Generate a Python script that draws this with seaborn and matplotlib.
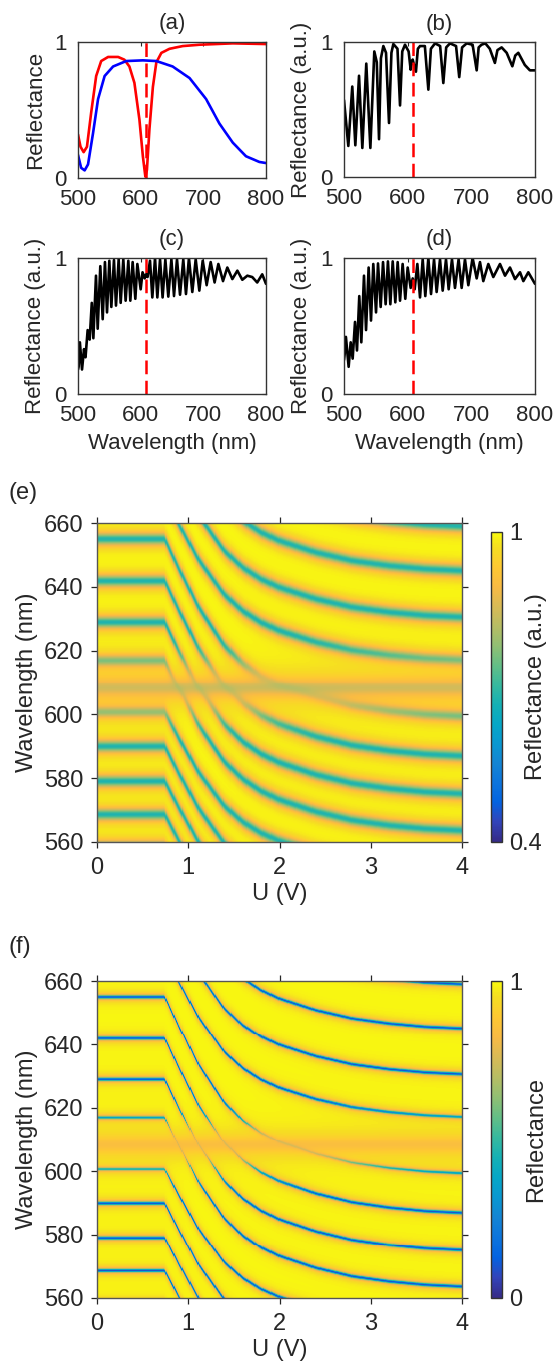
import numpy as np
import pandas as pd
import matplotlib
matplotlib.use("Agg")
import matplotlib.pyplot as plt
import seaborn as sns
from matplotlib.colors import LinearSegmentedColormap

# ---------------- data ----------------
# (a) simulated spectra
a_red_wl = [500, 504, 509, 514.3, 521, 529, 537, 548, 564, 574, 582, 590, 598, 603.5, 607.5,
            610, 614, 619.5, 625, 633, 646, 667, 694, 747, 800]
a_red_R = [0.32, 0.23, 0.19, 0.23, 0.48, 0.75, 0.86, 0.89, 0.89, 0.87, 0.82, 0.70, 0.43, 0.16, 0.01,
           0.06, 0.36, 0.67, 0.85, 0.92, 0.95, 0.97, 0.98, 0.99, 0.985]
a_blue_wl = [500, 505, 510.6, 516, 524, 532, 542.5, 556, 577, 603.5, 625, 651, 678, 704.5, 725.7,
             747, 768, 789.4, 800]
a_blue_R = [0.17, 0.075, 0.056, 0.10, 0.33, 0.58, 0.75, 0.82, 0.86, 0.865, 0.86, 0.82, 0.735, 0.58,
            0.40, 0.26, 0.16, 0.118, 0.11]

# (b) measured spectrum
b_wl = [500, 506.8, 513, 517.8, 523.6, 528.8, 535, 541.4, 547.6, 551.5, 555, 558, 561.8, 566, 570.7,
        574.5, 577.5, 584, 588, 591.5, 595.8, 601.5, 604.7, 606.5, 607.9, 609.5, 613, 616, 619.4, 627,
        632.5, 636.5, 643, 651, 656, 660.5, 666.5, 676, 681, 685.5, 692.7, 702, 708.4, 711.5, 716, 722,
        729, 737, 741, 747.6, 755.5, 764.4, 769, 773.8, 784, 792, 800]
b_R = [0.57, 0.23, 0.67, 0.235, 0.75, 0.215, 0.84, 0.215, 0.93, 0.85, 0.28, 0.88, 0.97, 0.92, 0.40,
       0.92, 0.985, 0.95, 0.53, 0.93, 0.98, 0.93, 0.795, 0.86, 0.87, 0.84, 0.78, 0.95, 0.97, 0.97,
       0.647, 0.95, 0.99, 0.97, 0.696, 0.96, 0.99, 0.97, 0.74, 0.96, 0.99, 0.98, 0.79, 0.96, 0.98, 0.99,
       0.95, 0.845, 0.94, 0.96, 0.92, 0.82, 0.90, 0.92, 0.83, 0.79, 0.79]

# (c) measured spectrum
c_wl = [500, 501, 503, 506.4, 509.6, 512, 515.4, 518.6, 522, 524.5, 528.7, 531.4, 535.6, 539.4, 543,
        546.3, 550, 553.2, 557.4, 560.6, 564.9, 568.1, 572.3, 576, 580.3, 583.5, 587.2, 591.5, 594.7,
        600, 603, 606.4, 608.5, 611, 614.9, 618.6, 622.9, 626.6, 630.9, 635, 639.4, 644.1, 649, 653.2,
        658, 662.8, 668, 672.3, 677, 682.4, 687.8, 693.6, 699, 705.3, 711.7, 718, 724, 731.4, 738.3,
        746.3, 754.3, 762.2, 770.2, 778, 786, 794, 800]
c_R = [0.18, 0.20, 0.38, 0.18, 0.33, 0.27, 0.47, 0.40, 0.67, 0.41, 0.87, 0.48, 0.94, 0.55, 0.97,
       0.60, 0.98, 0.64, 0.985, 0.65, 0.99, 0.67, 0.99, 0.686, 0.98, 0.686, 0.97, 0.70, 0.956,
       0.77, 0.895, 0.85, 0.88, 0.86, 0.98, 0.71, 1.0, 0.71, 0.99, 0.71, 0.99, 0.716, 0.99, 0.72,
       0.99, 0.73, 0.99, 0.735, 1.0, 0.75, 0.99, 0.76, 0.98, 0.80, 0.97, 0.82, 0.956, 0.83, 0.93,
       0.845, 0.907, 0.84, 0.87, 0.86, 0.82, 0.88, 0.81]

# (d) measured spectrum
d_wl = [500, 501, 503, 507.3, 510.5, 513.6, 517.3, 520.4, 524, 527.2, 531.4, 534.6, 538.7, 542.4, 546,
        550.3, 553.4, 557.6, 561.3, 565.4, 569, 572.8, 576.5, 580.6, 584.3, 588, 592.1, 596.3, 600,
        604.7, 607.9, 611, 615.2, 619.4, 623.6, 627.7, 632.5, 636.7, 641.4, 645.5, 650.8, 655, 660.2,
        664.4, 669.6, 674.3, 680, 684.8, 690, 695.3, 702, 708.4, 713.6, 718.8, 726.7, 734.5, 745,
        752.9, 760.7, 768.6, 776.5, 781.7, 789.5, 800]
d_R = [0.25, 0.29, 0.42, 0.20, 0.38, 0.26, 0.53, 0.32, 0.72, 0.38, 0.87, 0.47, 0.93, 0.54, 0.956,
       0.60, 0.96, 0.64, 0.97, 0.66, 0.975, 0.66, 0.975, 0.674, 0.97, 0.686, 0.956, 0.70, 0.93,
       0.78, 0.85, 0.77, 0.956, 0.71, 0.99, 0.72, 1.0, 0.735, 0.99, 0.75, 0.99, 0.76, 0.99,
       0.77, 0.99, 0.78, 0.99, 0.78, 0.99, 0.80, 1.0, 0.85, 0.97, 0.83, 0.956, 0.86, 0.956,
       0.87, 0.93, 0.845, 0.895, 0.83, 0.895, 0.81]

marker_wl = 608.5

# (e)/(f) maps: reflection dips (nm) at U = 0 V and at U = 4 V, tuning profile
mode_wl_U0 = [558.5, 568.6, 579.0, 589.9, 600.6, 617.0, 629.0, 641.9, 655.0, 668.0, 682.0, 697.0, 711.0, 726.0]
mode_wl_U4 = [510.5, 519.8, 529.4, 539.3, 551.5, 563.6, 575.1, 586.9, 599.3, 617.2, 630.6, 645.1, 659.0, 673.0]
tune_U = [0, 0.74, 0.9, 1.12, 1.4, 1.6, 1.8, 2.0, 2.4, 2.8, 3.2, 3.6, 4.0]
tune_frac = [0, 0, 0.17, 0.39, 0.60, 0.70, 0.77, 0.82, 0.89, 0.94, 0.97, 0.99, 1.0]
defect_wl = 608.3
e_dip_depth, e_dip_width, e_defect_depth = 0.32, 2.4, 0.15
f_dip_depth, f_dip_width, f_defect_depth = 0.90, 0.45, 0.15
e_range = (0.4, 1.0)
f_range = (0.0, 1.0)

# ---------------- style ----------------
sns.set_style("white")
plt.rcParams["font.family"] = ["Liberation Sans", "DejaVu Sans"]
dark = "#262626"
plt.rcParams.update({"text.color": dark, "axes.labelcolor": dark, "xtick.color": dark,
                     "ytick.color": dark, "axes.edgecolor": dark})

parula_pts = [(0.2081, 0.1663, 0.5292), (0.1959, 0.2645, 0.7279), (0.0117, 0.3875, 0.8820),
              (0.0498, 0.4586, 0.8641), (0.0793, 0.5200, 0.8312), (0.0343, 0.5966, 0.8199),
              (0.0228, 0.6535, 0.7768), (0.0843, 0.6928, 0.7062), (0.2178, 0.7250, 0.6193),
              (0.3953, 0.7459, 0.5244), (0.5709, 0.7485, 0.4494), (0.7184, 0.7411, 0.3905),
              (0.8507, 0.7299, 0.3360), (0.9739, 0.7314, 0.2666), (0.9955, 0.7861, 0.1967),
              (0.9626, 0.8705, 0.1309), (0.9763, 0.9831, 0.0538)]
pos = [0, 4, 8, 12, 16, 20, 24, 28, 32, 36, 40, 44, 48, 52, 56, 60, 63]
parula = LinearSegmentedColormap.from_list("parula", [(p / 63, c) for p, c in zip(pos, parula_pts)])

W, H = 555, 1371
fig = plt.figure(figsize=(W / 100, H / 100), dpi=100)


def rect(l, r, t, b):
    return [l / W, 1 - b / H, (r - l) / W, (b - t) / H]


FS = 16


def spectrum_axes(r, title, ylabel, xlabel, series):
    ax = fig.add_axes(r)
    for wl, R, col in series:
        df = pd.DataFrame({"wl": wl, "R": R})
        sns.lineplot(data=df, x="wl", y="R", ax=ax, color=col, lw=1.9, sort=False, estimator=None)
    ax.axvline(marker_wl, color="red", lw=1.8, ls=(0, (5.5, 2.6)))
    ax.set_xlim(500, 800)
    ax.set_ylim(0, 1)
    ax.set_xticks([500, 600, 700, 800])
    ax.set_yticks([0, 1])
    ax.set_yticklabels(["0", "1"])
    ax.tick_params(direction="in", length=3, width=0.8, top=True, right=True, labelsize=FS, pad=8)
    ax.set_title(title, fontsize=FS, pad=9)
    ax.set_ylabel(ylabel, fontsize=FS, labelpad=6)
    ax.set_xlabel(xlabel if xlabel else "", fontsize=FS, labelpad=5)
    for s in ax.spines.values():
        s.set_linewidth(1.0)
        s.set_color("#333333")
    return ax


spectrum_axes(rect(78, 266, 42, 178), "(a)", "Reflectance", None,
              [(a_red_wl, a_red_R, "#ff0000"), (a_blue_wl, a_blue_R, "#0000ff")])
spectrum_axes(rect(344, 535, 42, 177), "(b)", "Reflectance (a.u.)", None, [(b_wl, b_R, "black")])
spectrum_axes(rect(78, 266, 258, 394), "(c)", "Reflectance (a.u.)", "Wavelength (nm)", [(c_wl, c_R, "black")])
spectrum_axes(rect(344, 535, 258, 394), "(d)", "Reflectance (a.u.)", "Wavelength (nm)", [(d_wl, d_R, "black")])

# ---------------- maps ----------------
NU, NL = 320, 320
U = (np.arange(NU) + 0.5) * 4.0 / NU
LAM = 660 - (np.arange(NL) + 0.5) * 100.0 / NL
g = np.interp(U, tune_U, tune_frac)


def build_map(depth, width, ddepth, vmin, squared):
    R = np.ones((NL, NU))
    L = LAM[:, None]
    for l0, l4 in zip(mode_wl_U0, mode_wl_U4):
        pos_k = l0 + (l4 - l0) * g[None, :]
        fade = 1 - 0.9 * np.exp(-((pos_k - defect_wl) / 8.5) ** 2)
        prof = width ** 2 / ((L - pos_k) ** 2 + width ** 2)
        if squared:
            prof = prof ** 2
        R -= depth * fade * prof
    R -= ddepth * 9.0 / ((L - defect_wl) ** 2 + 9.0) * np.ones((1, NU))
    return np.clip(R, vmin, 1.0)


def map_axes(r, cr, data, vr, cblabel, cbticks, tag, tag_y):
    ax = fig.add_axes(r)
    cax = fig.add_axes(cr)
    df = pd.DataFrame(data, index=np.round(LAM, 2), columns=np.round(U, 3))
    sns.heatmap(df, ax=ax, cmap=parula, vmin=vr[0], vmax=vr[1], cbar_ax=cax,
                xticklabels=False, yticklabels=False, rasterized=True,
                cbar_kws={"ticks": [vr[0], vr[1]]})
    ax.set_xticks([u / 4.0 * NU for u in [0, 1, 2, 3, 4]])
    ax.set_xticklabels(["0", "1", "2", "3", "4"])
    yt = [660, 640, 620, 600, 580, 560]
    ax.set_yticks([(660 - v) / 100.0 * NL for v in yt])
    ax.set_yticklabels([str(v) for v in yt], rotation=0)
    ax.tick_params(direction="out", length=4, width=0.9, top=True, right=True,
                   bottom=True, left=True, labelsize=17, pad=6)
    ax.tick_params(axis="x", labelrotation=0, pad=7)
    for s in ax.spines.values():
        s.set_visible(True)
        s.set_linewidth(1.0)
        s.set_color("#555555")
    ax.set_xlabel("U (V)", fontsize=17, labelpad=3)
    ax.set_ylabel("Wavelength (nm)", fontsize=17, labelpad=4)
    cb = ax.collections[0].colorbar
    cb.outline.set_linewidth(1.0)
    cb.outline.set_edgecolor("#333333")
    cb.set_ticks(cbticks)
    cb.set_ticklabels([("%g" % t) for t in cbticks])
    cax.tick_params(length=0, labelsize=17, pad=5)
    cax.set_ylabel("")
    ymid = (cr[1] + cr[3] / 2)
    fig.text(536 / W, ymid, cblabel, fontsize=17, rotation=90, ha="center", va="center")
    fig.text(8 / W, 1 - tag_y / H, tag, fontsize=17, va="center", ha="left")
    return ax


e_map = build_map(e_dip_depth, e_dip_width, e_defect_depth, e_range[0], True)
f_map = build_map(f_dip_depth, f_dip_width, f_defect_depth, f_range[0], False)

map_axes(rect(97, 462, 523, 842), rect(491, 502, 532, 842), e_map, e_range,
         "Reflectance (a.u.)", [0.4, 1], "(e)", 493)
map_axes(rect(97, 462, 981, 1298), rect(491, 502, 981, 1298), f_map, f_range,
         "Reflectance", [0, 1], "(f)", 947)

fig.savefig("out.png", dpi=100)
